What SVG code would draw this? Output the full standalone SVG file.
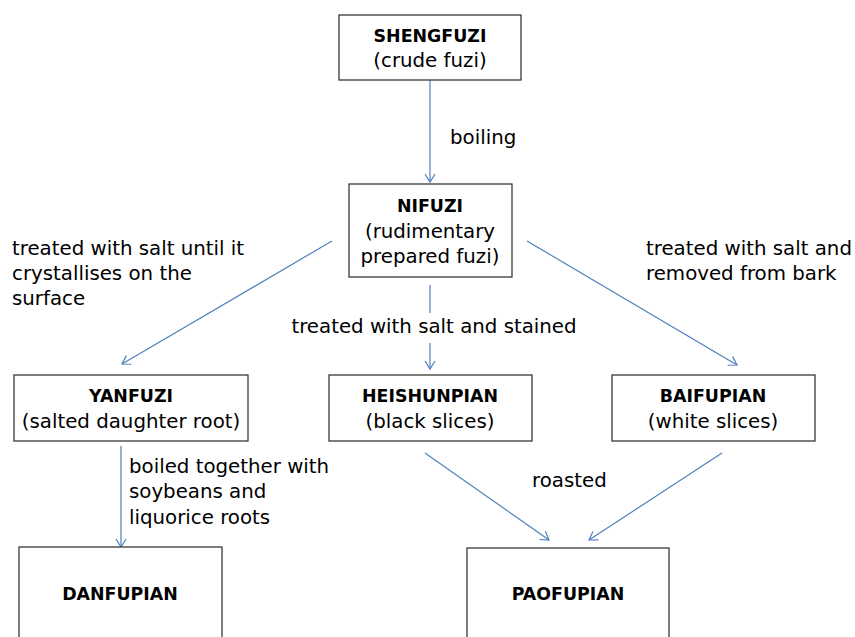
<svg xmlns="http://www.w3.org/2000/svg" width="855" height="637" viewBox="0 0 855 637">
<style>
.box{fill:#fff;stroke:#3a3a3a;stroke-width:1.3}
.t{font-family:"DejaVu Sans","Open Sans",sans-serif;font-size:19.8px;fill:#000}
.b{font-weight:bold;text-anchor:middle;font-size:17.4px}
.c{text-anchor:middle}
.con line{stroke:#4f81bd;stroke-width:1.2}
</style>
<defs>
<marker id="ah" markerUnits="userSpaceOnUse" markerWidth="12" markerHeight="14" refX="9" refY="6" orient="auto" viewBox="0 0 12 12">
<path d="M1,1 L9,6 L1,11" fill="none" stroke="#4f81bd" stroke-width="1.2"/>
</marker>
</defs>
<rect width="855" height="637" fill="#fff"/>
<g id="connectors" class="con">
<line x1="430" y1="80" x2="430" y2="182" marker-end="url(#ah)"/>
<line x1="332" y1="241" x2="122" y2="364" marker-end="url(#ah)"/>
<line x1="430" y1="285" x2="430" y2="313"/>
<line x1="430" y1="343" x2="430" y2="369" marker-end="url(#ah)"/>
<line x1="527" y1="241" x2="737" y2="365" marker-end="url(#ah)"/>
<line x1="121" y1="446" x2="121" y2="547" marker-end="url(#ah)"/>
<line x1="425" y1="453" x2="549" y2="540" marker-end="url(#ah)"/>
<line x1="722" y1="453" x2="589" y2="540" marker-end="url(#ah)"/>
</g>
<g id="labels" class="t">
<text x="12" y="255">treated with salt until it</text>
<text x="12" y="280">crystallises on the</text>
<text x="12" y="305">surface</text>
<text x="450" y="144">boiling</text>
<text x="434" y="333" class="c">treated with salt and stained</text>
<text x="646" y="255">treated with salt and</text>
<text x="646" y="280">removed from bark</text>
<text x="129" y="473">boiled together with</text>
<text x="129" y="498">soybeans and</text>
<text x="129" y="524">liquorice roots</text>
<text x="532" y="487">roasted</text>
</g>
<g id="shengfuzi" class="t">
<rect class="box" x="339" y="15" width="182" height="65"/>
<text x="430" y="42" class="b">SHENGFUZI</text>
<text x="430" y="67" class="c">(crude fuzi)</text>
</g>
<g id="nifuzi" class="t">
<rect class="box" x="349" y="184" width="163" height="93"/>
<text x="430" y="212" class="b">NIFUZI</text>
<text x="430" y="238" class="c">(rudimentary</text>
<text x="430" y="263" class="c">prepared fuzi)</text>
</g>
<g id="yanfuzi" class="t">
<rect class="box" x="14" y="375" width="234" height="66"/>
<text x="131" y="402" class="b">YANFUZI</text>
<text x="131" y="428" class="c">(salted daughter root)</text>
</g>
<g id="heishunpian" class="t">
<rect class="box" x="329" y="375" width="203" height="66"/>
<text x="430" y="402" class="b">HEISHUNPIAN</text>
<text x="430" y="428" class="c">(black slices)</text>
</g>
<g id="baifupian" class="t">
<rect class="box" x="612" y="375" width="203" height="66"/>
<text x="713" y="402" class="b">BAIFUPIAN</text>
<text x="713" y="428" class="c">(white slices)</text>
</g>
<g id="danfupian" class="t">
<rect class="box" x="19" y="547" width="203" height="100"/>
<text x="120" y="600" class="b">DANFUPIAN</text>
</g>
<g id="paofupian" class="t">
<rect class="box" x="467" y="548" width="202" height="100"/>
<text x="568" y="600" class="b">PAOFUPIAN</text>
</g>
</svg>
